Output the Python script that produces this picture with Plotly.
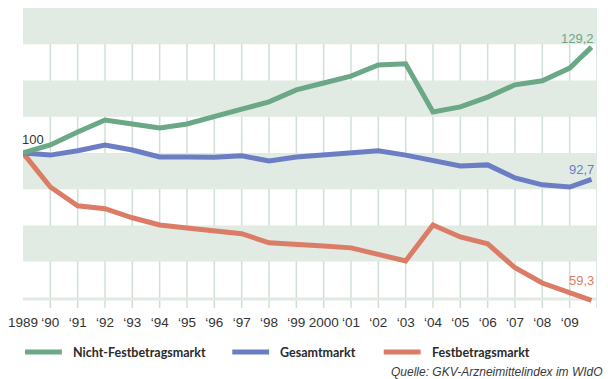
import plotly.graph_objects as go

# Index values (1989 = 100), one value per year plus the latest reading
years = [1989, 1990, 1991, 1992, 1993, 1994, 1995, 1996, 1997, 1998, 1999,
         2000, 2001, 2002, 2003, 2004, 2005, 2006, 2007, 2008, 2009, 2009.8]

nicht_festbetrag = [100, 102.2, 105.8, 109.1, 108.0, 106.9, 108.0, 110.2, 112.1, 114.1, 117.4,
                    119.3, 121.2, 124.3, 124.6, 111.3, 112.7, 115.4, 118.8, 119.9, 123.4, 129.2]
gesamtmarkt = [100, 99.4, 100.6, 102.2, 100.8, 98.9, 98.9, 98.8, 99.2, 97.8, 98.9,
               99.4, 100.0, 100.6, 99.4, 97.8, 96.4, 96.7, 93.1, 91.2, 90.6, 92.7]
festbetrag = [100, 90.6, 85.4, 84.6, 82.1, 80.1, 79.3, 78.5, 77.7, 75.2, 74.6,
              74.3, 73.8, 71.9, 70.2, 80.1, 76.8, 74.9, 68.3, 64.1, 61.4, 59.3]

tick_years = list(range(1989, 2010))
tick_labels = ["1989", "‘90", "‘91", "‘92", "‘93", "‘94", "‘95", "‘96", "‘97", "‘98", "‘99",
               "2000", "‘01", "‘02", "‘03", "‘04", "‘05", "‘06", "‘07", "‘08", "‘09"]

series_names = ["Nicht-Festbetragsmarkt", "Gesamtmarkt", "Festbetragsmarkt"]
series_values = [nicht_festbetrag, gesamtmarkt, festbetrag]
series_colors = ["#6aa886", "#6b7ec4", "#db7d66"]

BAND = "#e1eae3"
GRID = "#cfdfd5"
X0, X1 = 1989, 2010
Y0, Y1 = 57.2, 140
SANS = "Liberation Sans, Arial, sans-serif"
NARROW_BOLD = "Lato, Roboto, sans-serif"

fig = go.Figure()
for name, vals, col in zip(series_names[::-1], series_values[::-1], series_colors[::-1]):
    fig.add_trace(go.Scatter(x=years, y=vals, mode="lines", name=name,
                             line=dict(color=col, width=5), showlegend=False,
                             hoverinfo="skip"))

shapes = []
# horizontal shaded bands
for lo in [130, 110, 90, 70]:
    shapes.append(dict(type="rect", xref="x", yref="y", x0=X0, x1=X1, y0=lo, y1=lo + 10,
                       fillcolor=BAND, line=dict(width=0), layer="below"))
# thin base strip
shapes.append(dict(type="rect", xref="x", yref="y", x0=X0, x1=X1, y0=59.25, y1=60.1,
                   fillcolor=BAND, line=dict(width=0), layer="below"))
# vertical year gridlines
for yr in range(1990, 2011):
    shapes.append(dict(type="line", xref="x", yref="paper", x0=yr, x1=yr, y0=0, y1=1,
                       line=dict(color=GRID, width=1.5), layer="below"))

annotations = []
# start value
annotations.append(dict(x=years[0], y=nicht_festbetrag[0], xref="x", yref="y",
                        text=f"{nicht_festbetrag[0]:g}", showarrow=False,
                        xanchor="left", yanchor="bottom", xshift=-3, yshift=4,
                        font=dict(family=SANS, size=13, color="#333333")))
# end values
end_shifts = [-1, 0, 10]
for vals, col, ys in zip(series_values, series_colors, end_shifts):
    annotations.append(dict(x=years[-1], y=vals[-1], xref="x", yref="y",
                            text=f"{vals[-1]:.1f}".replace(".", ","), showarrow=False,
                            xanchor="right", yanchor="bottom", xshift=4, yshift=ys,
                            font=dict(family=SANS, size=13, color=col)))

# legend drawn beneath the plot
W_PLOT, H_PLOT, LEFT, TOP = 576, 300, 21, 8
def px_x(px):
    return (px - LEFT) / W_PLOT
def px_y(py):
    return (TOP + H_PLOT - py) / H_PLOT

legend_x = [23, 231, 383]
for lx, name, col in zip(legend_x, series_names, series_colors):
    shapes.append(dict(type="line", xref="paper", yref="paper",
                       x0=px_x(lx), x1=px_x(lx + 37), y0=px_y(352), y1=px_y(352),
                       line=dict(color=col, width=5)))
    annotations.append(dict(x=px_x(lx + 46), y=px_y(352), xref="paper", yref="paper",
                            text=f"<b>{name}</b>", showarrow=False,
                            xanchor="left", yanchor="middle",
                            font=dict(family=NARROW_BOLD, size=12.5, color="#2b2b2b")))

annotations.append(dict(x=px_x(605), y=px_y(372), xref="paper", yref="paper",
                        text="<i>Quelle: GKV-Arzneimittelindex im WIdO</i>", showarrow=False,
                        xanchor="right", yanchor="middle",
                        font=dict(family=SANS, size=12, color="#3a3a3a")))

fig.update_layout(
    width=608, height=379,
    margin=dict(l=LEFT, r=608 - LEFT - W_PLOT, t=TOP, b=379 - TOP - H_PLOT),
    paper_bgcolor="white", plot_bgcolor="white",
    shapes=shapes, annotations=annotations,
    xaxis=dict(range=[X0, X1], tickmode="array", tickvals=tick_years, ticktext=tick_labels,
               showgrid=False, zeroline=False, showline=False, ticks="",
               ticklabelstandoff=4,
               tickfont=dict(family=SANS, size=13.5, color="#333333")),
    yaxis=dict(range=[Y0, Y1], showgrid=False, zeroline=False, showline=False,
               showticklabels=False, ticks=""),
)

fig.write_html("out.html")
